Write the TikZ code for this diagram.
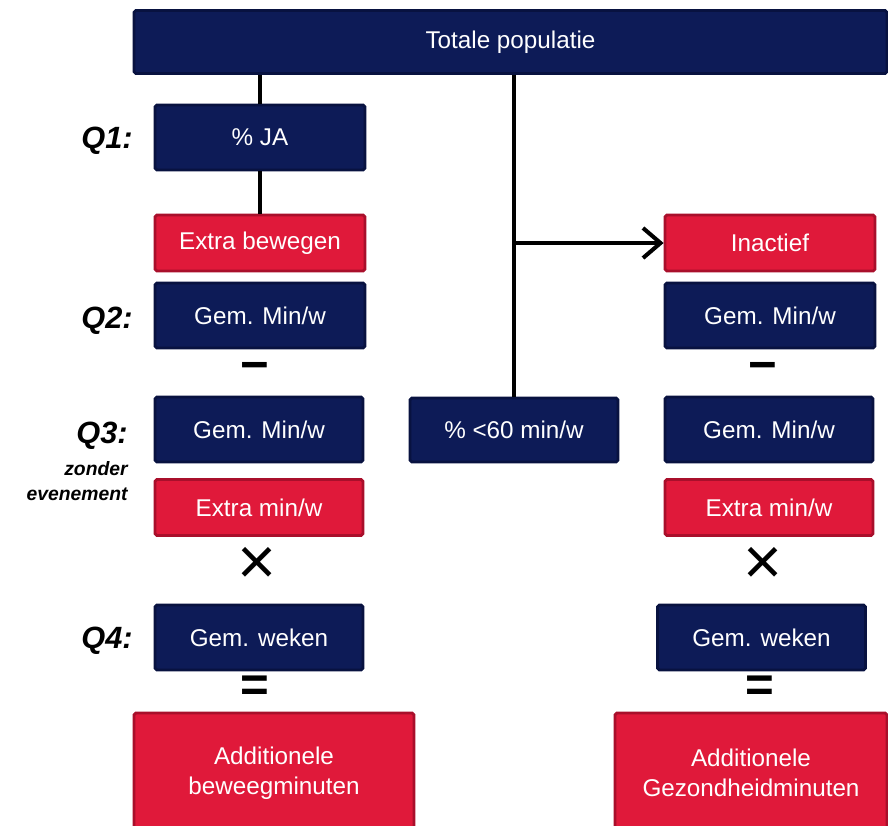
\documentclass[tikz,border=0pt]{standalone}
\usepackage{fontspec}
\setmainfont{Liberation Sans}
\usetikzlibrary{arrows.meta}

\definecolor{navy}{HTML}{0D1B57}
\definecolor{navyedge}{HTML}{081240}
\definecolor{signal}{HTML}{E0193A}
\definecolor{signaledge}{HTML}{A90F2B}

\tikzset{
  box/.style={rectangle, line width=1.6pt, rounded corners=1pt, text=white,
    font=\fontsize{13.8}{17}\selectfont, minimum width=4.2cm, minimum height=1.3cm,
    inner sep=0pt, align=center},
  navybox/.style={box, fill=navy, draw=navyedge},
  redbox/.style={box, fill=signal, draw=signaledge, minimum height=1.12cm},
  qlabel/.style={anchor=east, inner sep=0pt, font=\fontsize{17.5}{20}\selectfont\bfseries\itshape},
  sublabel/.style={anchor=east, inner sep=0pt, font=\fontsize{11}{13}\selectfont\bfseries\itshape},
  op/.style={font=\fontsize{28}{28}\selectfont\bfseries},
  cross/.style={font=\fontsize{38}{38}\selectfont},
  link/.style={line width=2.3pt}
}

\begin{document}
\begin{tikzpicture}[x=0.02cm,y=-0.02cm]
\useasboundingbox (0,0) rectangle (888,825);

% top
\node[navybox, minimum width=15.06cm, minimum height=1.26cm] (top) at (510.5,42) {Totale populatie};

% left column
\node[navybox] (ja) at (260,137.5) {\% JA};
\node[redbox] (extra) at (260,243) {Extra bewegen};
\node[navybox] (gemL) at (260,315.5) {Gem. Min/w};
\node[op] (minL) at (255,372) {−};
\node[navybox, minimum width=4.16cm] (gemLz) at (259,429.5) {Gem. Min/w};
\node[redbox, minimum width=4.16cm] (extraminL) at (259,507.5) {Extra min/w};
\node[cross] (timesL) at (257,566) {×};
\node[navybox, minimum width=4.16cm] (wekenL) at (259,637.5) {Gem. weken};
\node[op] (eqL) at (255,689) {=};
\node[redbox, minimum width=5.6cm, minimum height=2.4cm] (addL) at (274,773) {Additionele\\beweegminuten};

% middle
\node[navybox, minimum width=4.16cm, minimum height=1.28cm] (lt) at (514,430) {\% <60 min/w};

% right column
\node[redbox] (inactief) at (770,243) {Inactief};
\node[navybox] (gemR) at (770,315.5) {Gem. Min/w};
\node[op] (minR) at (763,372) {−};
\node[navybox, minimum width=4.16cm] (gemRz) at (769,429.5) {Gem. Min/w};
\node[redbox, minimum width=4.16cm] (extraminR) at (769,507.5) {Extra min/w};
\node[cross] (timesR) at (763,566) {×};
\node[navybox, minimum width=4.16cm] (wekenR) at (761.5,637.5) {Gem. weken};
\node[op] (eqR) at (760,689) {=};
\node[redbox, minimum width=5.44cm, minimum height=2.4cm] (addR) at (751,773) {Additionele\\Gezondheidminuten};

% labels
\node[qlabel] (q1) at (133,141) {Q1:};
\node[qlabel] (q2) at (133,321) {Q2:};
\node[qlabel] (q3) at (128,436) {Q3:};
\node[sublabel] (zonder) at (128,469) {zonder};
\node[sublabel] (evenement) at (128,494) {evenement};
\node[qlabel] (q4) at (133,641) {Q4:};

% connectors
\draw[link] (ja.north) -- (ja.north |- top.south);
\draw[link] (ja.south) -- (extra.north);
\draw[link] (lt.north) -- (lt.north |- top.south);
\coordinate (split) at (lt.north |- inactief.west);
\draw[link,-{Straight Barb[length=3.5mm,width=6mm]}] (split) -- (inactief.west);
\end{tikzpicture}
\end{document}
